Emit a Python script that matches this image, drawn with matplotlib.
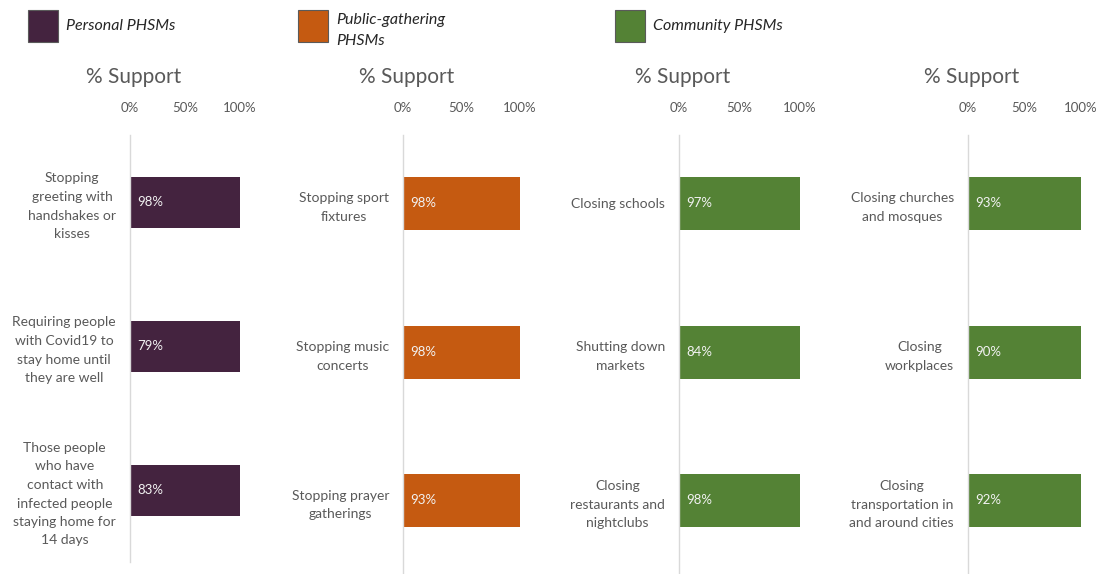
import matplotlib
matplotlib.use("Agg")
import matplotlib.pyplot as plt
from matplotlib.patches import Rectangle

plt.rcParams['font.family'] = ['Lato', 'DejaVu Sans']

# ---- data ----
group_names = ["Personal PHSMs", "Public-gathering\nPHSMs", "Community PHSMs"]
group_colors = ["#44233F", "#C55A11", "#548235"]

panel1_labels = ["Stopping\ngreeting with\nhandshakes or\nkisses",
                 "Requiring people\nwith Covid19 to\nstay home until\nthey are well",
                 "Those people\nwho have\ncontact with\ninfected people\nstaying home for\n14 days"]
panel1_support = [98, 79, 83]

panel2_labels = ["Stopping sport\nfixtures", "Stopping music\nconcerts", "Stopping prayer\ngatherings"]
panel2_support = [98, 98, 93]

panel3_labels = ["Closing schools", "Shutting down\nmarkets", "Closing\nrestaurants and\nnightclubs"]
panel3_support = [97, 84, 98]

panel4_labels = ["Closing churches\nand mosques", "Closing\nworkplaces", "Closing\ntransportation in\nand around cities"]
panel4_support = [93, 90, 92]

tick_values = [0, 50, 100]
tick_labels = ["0%", "50%", "100%"]
axis_title = "% Support"

W, H = 1100, 574
fig = plt.figure(figsize=(W / 100, H / 100), dpi=100)

def px_rect(x0, y0, x1, y1):
    return [x0 / W, 1 - y1 / H, (x1 - x0) / W, (y1 - y0) / H]

GRAY = "#595959"

panels = [
    # (labels, values, color, axis_x0, axis_x100, y_top, y_bottom, first_center, spacing, bar_h_px)
    (panel1_labels, panel1_support, group_colors[0], 130, 240, 135, 562, 202, 144, 51),
    (panel2_labels, panel2_support, group_colors[1], 403, 520, 135, 574, 203.5, 148.5, 53),
    (panel3_labels, panel3_support, group_colors[2], 679, 800, 135, 574, 203.5, 148.5, 53),
    (panel4_labels, panel4_support, group_colors[2], 968, 1081, 135, 574, 203.5, 148.5, 53),
]

for labels, values, color, x0, x100, yt, yb, c0, sp, bh in panels:
    ax = fig.add_axes(px_rect(x0, yt, x100, yb))
    pos = list(range(len(values)))
    rest = [100 - v for v in values]
    ax.barh(pos, values, height=bh / sp, color=color, linewidth=0)
    ax.barh(pos, rest, left=values, height=bh / sp, color=color, linewidth=0)
    ax.set_xlim(0, 100)
    ax.set_ylim((yb - c0) / sp, (yt - c0) / sp)
    ax.set_yticks(pos)
    ax.set_yticklabels(labels, fontsize=10, color=GRAY, multialignment='center',
                       linespacing=1.65)
    ax.tick_params(axis='y', length=0, pad=10)
    ax.xaxis.tick_top()
    ax.set_xticks(tick_values)
    ax.set_xticklabels(tick_labels, fontsize=9.5, color=GRAY)
    ax.tick_params(axis='x', length=0, pad=15)
    for s in ["top", "right", "bottom"]:
        ax.spines[s].set_visible(False)
    ax.spines["left"].set_color("#D9D9D9")
    ax.spines["left"].set_linewidth(1.0)
    for i, v in enumerate(values):
        ax.annotate(f"{v}%", xy=(0, i), xytext=(7, 0), textcoords='offset pixels',
                    ha='left', va='center', fontsize=9.5, color="#F2F2F2")
    fig.text((x0 + 4) / W, 1 - 77 / H, axis_title, fontsize=15, color=GRAY,
             ha='center', va='center')

# ---- legend ----
legend_items = [(28, group_names[0], group_colors[0], [25]),
                (298, group_names[1], group_colors[1], [19, 40]),
                (615, group_names[2], group_colors[2], [25])]
for x, name, color, ys in legend_items:
    fig.patches.append(Rectangle((x / W, 1 - 42 / H), 30 / W, 32 / H,
                                 transform=fig.transFigure, facecolor=color,
                                 edgecolor="#5a5a5a", linewidth=0.8))
    for line, y in zip(name.split("\n"), ys):
        fig.text((x + 38) / W, 1 - (y + 1) / H, line, fontsize=11.5, style='italic',
                 color="#262626", ha='left', va='center')

fig.savefig("out.png", dpi=100, facecolor="white")
